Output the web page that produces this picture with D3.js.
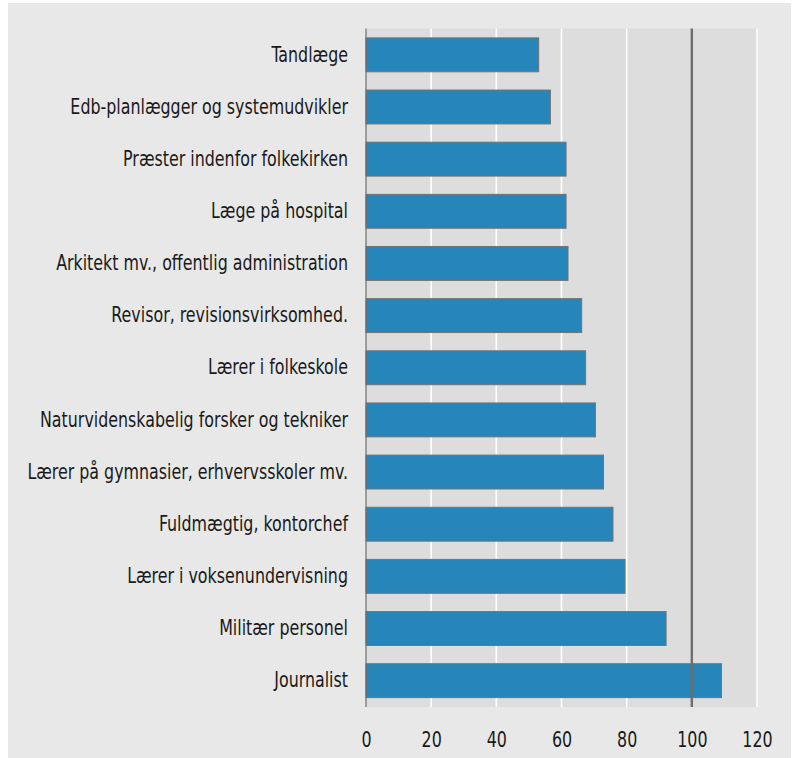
<!DOCTYPE html>
<html><head><meta charset="utf-8">
<script src="https://cdn.jsdelivr.net/npm/d3@7"></script>
<style>body{margin:0;background:#fff}svg{display:block}</style>
</head><body><svg id="c" width="794" height="758"></svg>
<script>
const categories = ["Tandlæge","Edb-planlægger og systemudvikler","Præster indenfor folkekirken","Læge på hospital","Arkitekt mv., offentlig administration","Revisor, revisionsvirksomhed.","Lærer i folkeskole","Naturvidenskabelig forsker og tekniker","Lærer på gymnasier, erhvervsskoler mv.","Fuldmægtig, kontorchef","Lærer i voksenundervisning","Militær personel","Journalist"];
const values = [53.0,56.6,61.4,61.4,62.0,66.2,67.4,70.4,72.9,75.8,79.5,92.1,109.1];
const xTicks = [0,20,40,60,80,100,120];
const refValue = 100;

const svg = d3.select("#c");
const font = "'DejaVu Sans Condensed','DejaVu Sans',sans-serif";
const L=366, R=757, T=28.5, B=707;
svg.append("rect").attr("x",8).attr("y",3).attr("width",783).attr("height",755).attr("fill","#e8e8e8");
svg.append("rect").attr("x",L).attr("y",T).attr("width",R-L+1).attr("height",B-T).attr("fill","#dddddd");

const x = d3.scaleLinear().domain([0,120]).range([L,R]);
const y = d3.scaleBand().domain(categories).range([T,B]).paddingInner(0.35).paddingOuter(0.18);

svg.append("g").selectAll("line").data(xTicks.filter(d=>d>0)).join("line")
  .attr("x1",d=>x(d)).attr("x2",d=>x(d)).attr("y1",T).attr("y2",B)
  .attr("stroke","#ffffff").attr("stroke-width",1.6);

svg.append("g").selectAll("rect").data(values).join("rect")
  .attr("x",x(0)).attr("y",(d,i)=>y(categories[i]))
  .attr("width",d=>x(d)-x(0)).attr("height",y.bandwidth())
  .attr("fill","#2685b9").attr("stroke","#737373").attr("stroke-width",1);

svg.append("line").attr("x1",x(refValue)).attr("x2",x(refValue)).attr("y1",T).attr("y2",B)
  .attr("stroke","#6e6e6e").attr("stroke-width",2.4);

svg.append("line").attr("x1",L).attr("x2",L).attr("y1",T).attr("y2",B)
  .attr("stroke","#6e6e6e").attr("stroke-width",1.2);

const yAxis = d3.axisLeft(y).tickSize(0).tickPadding(18);
const ga = svg.append("g").attr("transform",`translate(${L},0)`).call(yAxis);
ga.select(".domain").remove();
ga.selectAll("text").attr("font-family",font).attr("font-stretch","condensed").attr("font-size",21).attr("fill","#1a1a1a");

const xAxis = d3.axisBottom(x).tickValues(xTicks).tickSize(0).tickPadding(0);
const gx = svg.append("g").attr("transform",`translate(0,${B})`).call(xAxis);
gx.select(".domain").remove();
gx.selectAll("text").attr("font-family",font).attr("font-stretch","condensed").attr("font-size",21).attr("fill","#1a1a1a")
  .attr("dy",null).attr("y",40);

// scale text widths to match the condensed face of the reference
let ref = null;
ga.selectAll("text").each(function(d){ if(d==="Lærer på gymnasier, erhvervsskoler mv.") ref=this.getComputedTextLength(); });
const ratio = ref ? 320.6/ref : 1;
svg.selectAll(".tick text").each(function(){
  const w = this.getComputedTextLength();
  d3.select(this).attr("textLength", w*ratio).attr("lengthAdjust","spacingAndGlyphs");
});
</script></body></html>
